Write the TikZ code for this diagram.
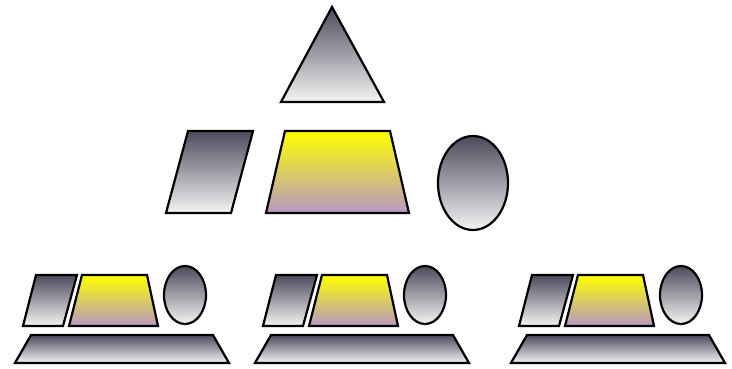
\documentclass[tikz,border=0pt]{standalone}
\usepackage{xcolor}
\usepackage{tikz}
\definecolor{slatetop}{RGB}{76, 75, 92}
\definecolor{slatebottom}{RGB}{244, 244, 244}
\definecolor{lemon}{RGB}{255, 255, 0}
\definecolor{lilac}{RGB}{183, 152, 198}
\tikzset{
  grayshape/.style={draw=black, line width=2.2pt, top color=slatetop, bottom color=slatebottom},
  yellowshape/.style={draw=black, line width=2.2pt, top color=lemon, bottom color=lilac}
}

\begin{document}
\begin{tikzpicture}[x=1pt, y=-1pt]
  \useasboundingbox (0,0) rectangle (732,369);

  % top of the pyramid
  \draw[grayshape] (332,7) -- (384,102) -- (281,102) -- cycle;

  % middle row
  \draw[grayshape] (188,131) -- (253,131) -- (231,213) -- (166,213) -- cycle;
  \draw[yellowshape] (285,131) -- (390,131) -- (409,213) -- (266,213) -- cycle;
  \draw[grayshape] (473,183) ellipse (35 and 47);

  % bottom row, left group
  \begin{scope}[shift={(0,0)}]
    \draw[grayshape] (36,275) -- (77,275) -- (63,326) -- (23,326) -- cycle;
    \draw[yellowshape] (82,275) -- (147,275) -- (158,326) -- (69,326) -- cycle;
    \draw[grayshape] (185,295) ellipse (21 and 29);
    \draw[grayshape] (31,335) -- (213,335) -- (229,363) -- (15,363) -- cycle;
  \end{scope}

  % bottom row, middle group
  \begin{scope}[shift={(240,0)}]
    \draw[grayshape] (36,275) -- (77,275) -- (63,326) -- (23,326) -- cycle;
    \draw[yellowshape] (82,275) -- (147,275) -- (158,326) -- (69,326) -- cycle;
    \draw[grayshape] (185,295) ellipse (21 and 29);
    \draw[grayshape] (31,335) -- (213,335) -- (229,363) -- (15,363) -- cycle;
  \end{scope}

  % bottom row, right group
  \begin{scope}[shift={(496,0)}]
    \draw[grayshape] (36,275) -- (77,275) -- (63,326) -- (23,326) -- cycle;
    \draw[yellowshape] (82,275) -- (147,275) -- (158,326) -- (69,326) -- cycle;
    \draw[grayshape] (185,295) ellipse (21 and 29);
    \draw[grayshape] (31,335) -- (213,335) -- (229,363) -- (15,363) -- cycle;
  \end{scope}
\end{tikzpicture}
\end{document}
